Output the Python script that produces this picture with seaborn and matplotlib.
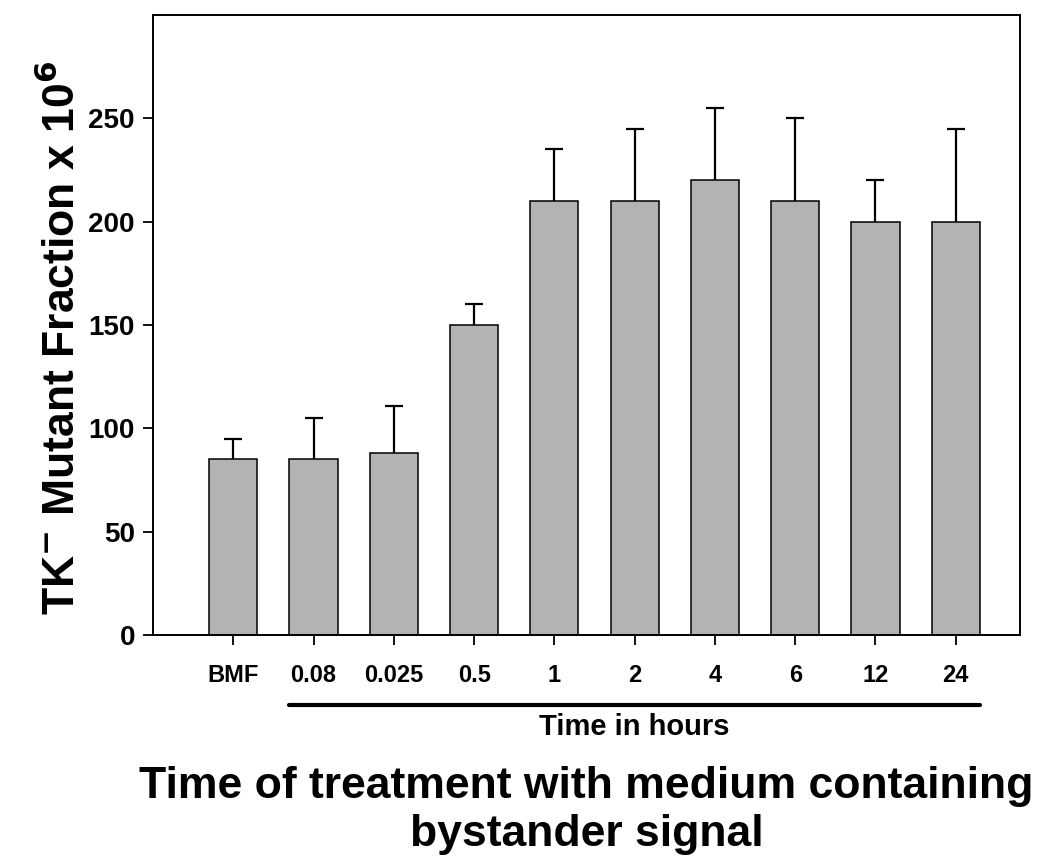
import pandas as pd
import matplotlib
matplotlib.use('Agg')
import matplotlib.pyplot as plt
import matplotlib.transforms as mtransforms
import seaborn as sns

# data
groups = ['BMF', '0.08', '0.025', '0.5', '1', '2', '4', '6', '12', '24']
mutant_fraction = [85, 85, 88, 150, 210, 210, 220, 210, 200, 200]
error_up = [10, 20, 23, 10, 25, 35, 35, 40, 20, 45]
yticks = [0, 50, 100, 150, 200, 250]

sns.set_style('ticks')
plt.rcParams['font.family'] = ['Liberation Sans', 'DejaVu Sans']
plt.rcParams['font.weight'] = 'bold'
plt.rcParams['mathtext.default'] = 'bf'
for k in ['text.color', 'axes.labelcolor', 'xtick.color', 'ytick.color', 'axes.edgecolor']:
    plt.rcParams[k] = 'black'

df = pd.DataFrame({'group': groups, 'value': mutant_fraction, 'err': error_up})

fig = plt.figure(figsize=(10.5, 8.63), dpi=100)
ax = fig.add_axes([0.1457, 0.2642, 0.8257, 0.7184])

sns.barplot(data=df, x='group', y='value', color='#b3b3b3', saturation=1,
            edgecolor='black', linewidth=1.1, width=0.6, ax=ax, errorbar=None)
eb = ax.errorbar(range(len(groups)), df['value'], yerr=[[0] * len(groups), df['err']],
                 fmt='none', ecolor='black', elinewidth=1.6, capsize=6.8, capthick=1.6)
# only the upper cap is visible in the original
eb[1][0].set_visible(False)

ax.set_xlim(-1.0, 9.8)
ax.set_ylim(0, 300)
ax.set_yticks(yticks)
ax.set_yticklabels([str(t) for t in yticks], fontsize=20, fontweight='bold')
ax.set_xticks(range(len(groups)))
ax.set_xticklabels(groups, fontsize=17, fontweight='bold')
ax.tick_params(axis='both', direction='out', length=7, width=1.3, pad=6)
ax.tick_params(axis='x', pad=14)
for s in ax.spines.values():
    s.set_visible(True)
    s.set_linewidth(1.4)

ax.set_ylabel(r'TK$^{-}$ Mutant Fraction x 10$^{6}$', fontsize=32, fontweight='bold')
ax.yaxis.set_label_coords(-0.080, 0.48)
ax.set_xlabel('Time of treatment with medium containing\nbystander signal',
              fontsize=32, fontweight='bold', labelpad=57, linespacing=1.2)

trans = mtransforms.blended_transform_factory(ax.transData, ax.transAxes)
ax.plot([0.7, 9.3], [-0.113, -0.113], color='black', lw=3, transform=trans,
        clip_on=False)
ax.text(5.0, -0.149, 'Time in hours', transform=trans, ha='center', va='center',
        fontsize=21, fontweight='bold')

fig.savefig('out.png', dpi=100)
